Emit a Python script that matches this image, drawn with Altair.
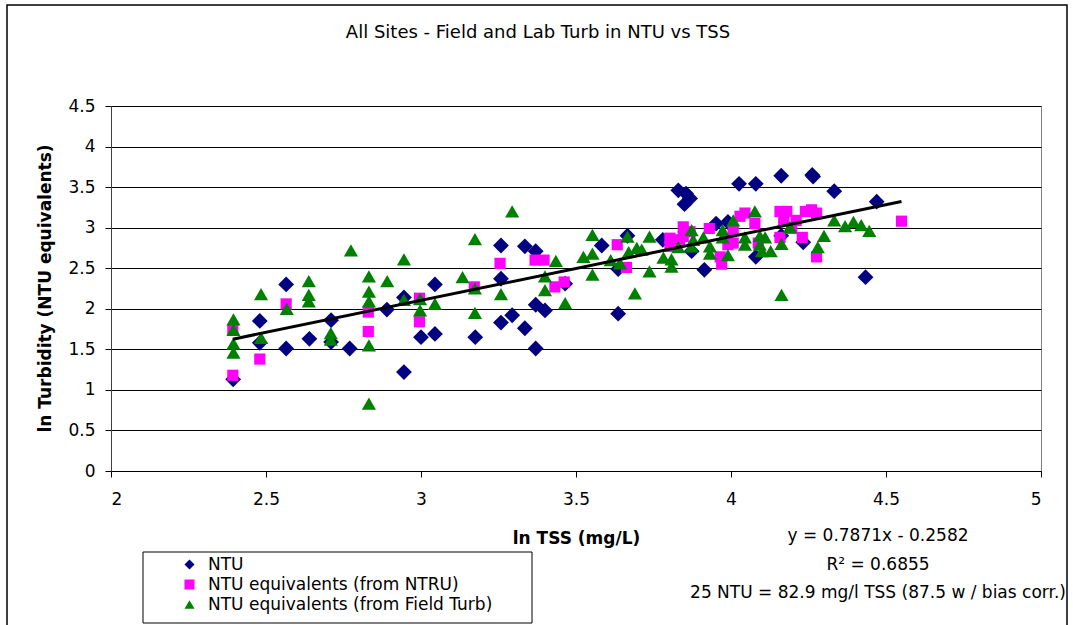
import altair as alt
import pandas as pd

# ---------------- data ----------------
ntu_x = [2.394, 2.48, 2.48, 2.565, 2.565, 2.64, 2.71, 2.71, 2.77, 2.89,
         2.945, 2.945, 3.045, 3.0, 3.045, 3.175, 3.258, 3.258, 3.258, 3.294,
         3.335, 3.335, 3.37, 3.37, 3.37, 3.40, 3.465, 3.583, 3.636, 3.636,
         3.666, 3.78, 3.83, 3.855, 3.868, 3.85, 3.873, 3.914, 3.952, 3.99,
         4.026, 4.08, 4.08, 4.162, 4.162, 4.262, 4.265, 4.233, 4.333, 4.434,
         4.47]
ntu_y = [1.13, 1.85, 1.58, 2.30, 1.51, 1.63, 1.86, 1.59, 1.51, 1.99,
         2.14, 1.22, 2.30, 1.65, 1.69, 1.65, 2.78, 2.37, 1.83, 1.92,
         2.77, 1.76, 2.71, 2.05, 1.51, 1.98, 2.31, 2.78, 2.49, 1.94,
         2.90, 2.85, 3.46, 3.42, 3.36, 3.29, 2.71, 2.48, 3.05, 3.07,
         3.54, 3.54, 2.64, 3.64, 2.90, 3.65, 3.63, 2.82, 3.45, 2.39,
         3.32]

ntru_x = [2.393, 2.393, 2.48, 2.565, 2.83, 2.83, 2.995, 2.995, 3.172, 3.255,
          3.368, 3.397, 3.432, 3.462, 3.633, 3.663, 3.803, 3.803, 3.834, 3.846,
          3.846, 3.868, 3.93, 3.965, 3.97, 3.99, 4.007, 4.007, 4.029, 4.045,
          4.077, 4.088, 4.158, 4.18, 4.17, 4.158, 4.196, 4.21, 4.23, 4.24,
          4.26, 4.276, 4.276, 4.55]
ntru_y = [1.18, 1.74, 1.38, 2.06, 1.72, 1.96, 1.84, 2.13, 2.27, 2.56,
          2.60, 2.60, 2.27, 2.33, 2.79, 2.51, 2.87, 2.77, 2.85, 3.01,
          2.89, 2.95, 2.99, 2.64, 2.55, 2.79, 2.81, 2.97, 3.14, 3.18,
          3.05, 2.81, 3.20, 3.20, 3.09, 2.88, 2.99, 3.09, 2.88, 3.20,
          3.22, 3.18, 2.64, 3.08]

field_x = [2.395, 2.395, 2.395, 2.395, 2.484, 2.484, 2.567, 2.638, 2.638, 2.638,
           2.709, 2.709, 2.774, 2.832, 2.832, 2.832, 2.832, 2.832, 2.891, 2.945,
           2.945, 2.997, 2.997, 3.045, 3.134, 3.174, 3.174, 3.174, 3.258, 3.294,
           3.40, 3.40, 3.435, 3.465, 3.524, 3.553, 3.553, 3.553, 3.612, 3.642,
           3.666, 3.67, 3.69, 3.696, 3.712, 3.737, 3.737, 3.782, 3.808, 3.808,
           3.83, 3.873, 3.878, 3.873, 3.911, 3.932, 3.932, 3.973, 3.973, 3.99,
           4.007, 4.045, 4.045, 4.077, 4.093, 4.093, 4.11, 4.10, 4.128, 4.163,
           4.163, 4.19, 4.28, 4.30, 4.333, 4.368, 4.395, 4.42, 4.446]
field_y = [1.87, 1.74, 1.57, 1.46, 2.18, 1.64, 2.00, 2.34, 2.17, 2.09,
           1.70, 1.62, 2.72, 2.40, 2.21, 2.09, 1.55, 0.83, 2.34, 2.61,
           2.11, 2.12, 1.98, 2.06, 2.39, 2.86, 2.25, 1.95, 2.18, 3.20,
           2.40, 2.23, 2.59, 2.07, 2.64, 2.91, 2.68, 2.42, 2.60, 2.56,
           2.89, 2.70, 2.19, 2.75, 2.73, 2.89, 2.46, 2.63, 2.61, 2.52,
           2.76, 2.97, 2.85, 2.77, 2.88, 2.77, 2.68, 2.97, 2.88, 2.66,
           3.09, 2.88, 2.79, 3.20, 2.90, 2.79, 2.88, 2.71, 2.71, 2.80,
           2.17, 3.01, 2.76, 2.90, 3.09, 3.02, 3.07, 3.03, 2.96]

series_names = ["NTU", "NTU equivalents  (from NTRU)", "NTU equivalents  (from Field Turb)"]
series_colors = ["#000080", "#FF00FF", "#008000"]
series_shapes = ["diamond", "square", "triangle-up"]
series_sizes = [250, 125, 200]

slope = 0.7871
intercept = -0.2582

title_text = "All Sites - Field and  Lab Turb in NTU vs TSS"
eq_text = "y = 0.7871x - 0.2582\nR\u00b2 = 0.6855\n25 NTU = 82.9 mg/l TSS (87.5 w / bias corr.)"

x_ticks = [2, 2.5, 3, 3.5, 4, 4.5, 5]
y_ticks = [0, 0.5, 1, 1.5, 2, 2.5, 3, 3.5, 4, 4.5]

# ---------------- tables ----------------
df = pd.concat([
    pd.DataFrame({"x": ntu_x, "y": ntu_y, "series": series_names[0]}),
    pd.DataFrame({"x": ntru_x, "y": ntru_y, "series": series_names[1]}),
    pd.DataFrame({"x": field_x, "y": field_y, "series": series_names[2]}),
], ignore_index=True)

xmin, xmax = df["x"].min(), df["x"].max()
trend = pd.DataFrame({"x": [xmin, xmax]})
trend["y"] = slope * trend["x"] + intercept

FONT = "DejaVu Sans"
one = pd.DataFrame({"a": [0]})

xscale = alt.Scale(domain=[2, 5], nice=False, zero=False)
yscale = alt.Scale(domain=[0, 4.5], nice=False, zero=True)

legend_cfg = dict(title=None, orient="none", legendX=70, legendY=450,
                  symbolOffset=0, labelOffset=10, labelFont=FONT,
                  labelFontSize=17, labelColor="black", rowPadding=2,
                  padding=0, symbolSize=100, labelLimit=0)

x_enc = alt.X("x:Q", scale=xscale, title="ln TSS (mg/L)",
              axis=alt.Axis(values=x_ticks, format="~g", grid=False, tickSize=6,
                            tickColor="black", domainColor="black",
                            labelFont=FONT, labelFontSize=17, labelColor="black",
                            labelPadding=14, titleFont=FONT, titleFontSize=17,
                            titleFontWeight="bold", titleColor="black",
                            titleX=465, titleY=67, titleBaseline="middle"))
y_enc = alt.Y("y:Q", scale=yscale, title="ln Turbidity (NTU equivalents)",
              axis=alt.Axis(values=y_ticks, format="~g", grid=True, gridColor="black",
                            gridWidth=1, tickSize=6, tickColor="black",
                            domainColor="#404040", labelFont=FONT, labelFontSize=17,
                            labelColor="black", labelPadding=10, titleFont=FONT,
                            titleFontSize=17, titleFontWeight="bold", titleColor="black",
                            titleX=-66, titleY=182, titleAngle=270,
                            titleBaseline="middle"))
color_enc = alt.Color("series:N", scale=alt.Scale(domain=series_names, range=series_colors),
                      legend=alt.Legend(**legend_cfg))
shape_enc = alt.Shape("series:N", scale=alt.Scale(domain=series_names, range=series_shapes),
                      legend=alt.Legend(**legend_cfg))

point_layers = []
for name, sz in zip(series_names, series_sizes):
    point_layers.append(
        alt.Chart(df).transform_filter(alt.datum.series == name)
        .mark_point(filled=True, opacity=1, strokeWidth=0, size=sz)
        .encode(x=x_enc, y=y_enc, color=color_enc, shape=shape_enc)
    )

line = alt.Chart(trend).mark_line(color="black", strokeWidth=3).encode(
    x=alt.X("x:Q", scale=xscale), y=alt.Y("y:Q", scale=yscale))

title = alt.Chart(one).mark_text(font=FONT, fontSize=18, color="black",
                                 align="center", baseline="middle").encode(
    x=alt.value(427), y=alt.value(-73), text=alt.value(title_text))

eq = alt.Chart(one).mark_text(font=FONT, fontSize=17, color="black", align="center",
                              baseline="alphabetic", lineBreak="\n", lineHeight=28.5).encode(
    x=alt.value(767), y=alt.value(435), text=alt.value(eq_text))

legend_box = alt.Chart(one).mark_rect(fillOpacity=0, stroke="black", strokeWidth=1).encode(
    x=alt.value(32), x2=alt.value(421), y=alt.value(446), y2=alt.value(517))

outer_box = alt.Chart(one).mark_rect(fillOpacity=0, stroke="black", strokeWidth=1.5).encode(
    x=alt.value(-104), x2=alt.value(956), y=alt.value(-101), y2=alt.value(530))

chart = alt.layer(outer_box, legend_box, *point_layers, line, title, eq).properties(
    width=930, height=365,
    autosize=alt.AutoSizeParams(type="none"),
    padding={"left": 111, "top": 106, "right": 32, "bottom": 154},
    background="white",
).configure_view(stroke="#808080", strokeWidth=1)

chart.save("out.html", embed_options={"renderer": "svg", "actions": False})
